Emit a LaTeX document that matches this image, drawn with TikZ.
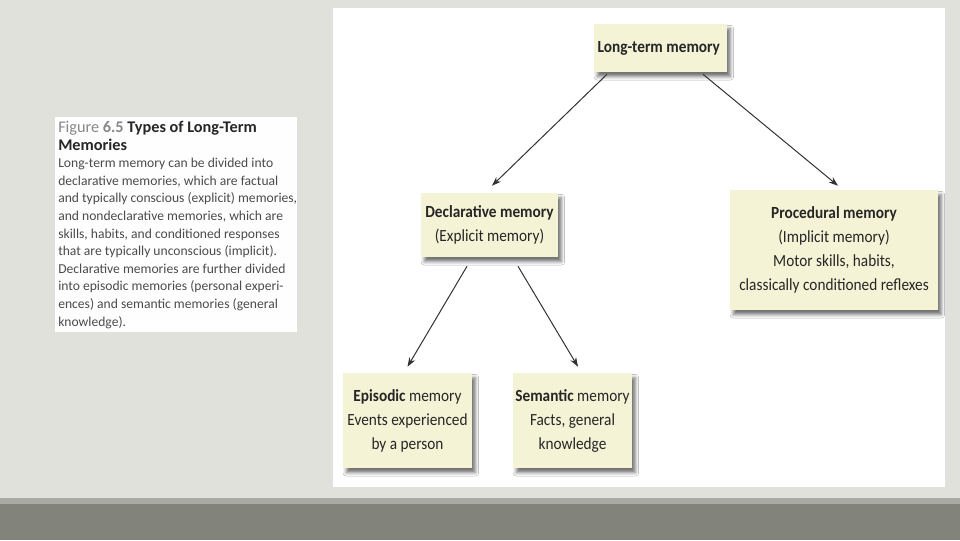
\documentclass[tikz,border=0pt]{standalone}
\usepackage{fontspec}
\usepackage{xcolor}
\usetikzlibrary{arrows.meta,shadows.blur}
\newfontfamily\boxfont[FakeStretch=0.9]{Carlito}
\newfontfamily\captionfont{Carlito}
\definecolor{pagegray}{RGB}{224,225,219}
\definecolor{bandlight}{RGB}{170,171,165}
\definecolor{banddark}{RGB}{130,131,122}
\definecolor{memfill}{RGB}{244,243,214}
\definecolor{captext}{RGB}{75,75,75}
\definecolor{capgray}{RGB}{135,135,135}

\begin{document}
\begin{tikzpicture}[
    x=0.75pt, y=-0.75pt,
    memory/.style={rectangle, fill=memfill, align=center, inner sep=0pt, text=black!85,
      font=\boxfont\fontsize{12.75}{18}\selectfont,
      blur shadow={shadow xshift=2.5pt, shadow yshift=-3.5pt, shadow blur radius=2.5pt, shadow opacity=55}},
    link/.style={-{Stealth[length=7pt,width=5pt]}, draw=black!80, line width=0.75pt}
    ]
    \useasboundingbox (0,0) rectangle (960,540);
    \fill[pagegray] (0,0) rectangle (960,540);
    \fill[white] (333,8) rectangle (945,487);
    \fill[bandlight] (0,498) rectangle (960,504);
    \fill[banddark] (0,504) rectangle (960,540);
    \fill[white!97!pagegray] (55,117) rectangle (297,332);
    \node[anchor=north west, inner sep=0pt, align=left, text=captext,
      font=\captionfont\fontsize{10.2}{13.2}\selectfont] (Caption) at (58,121) {
      {\fontsize{12.2}{13.2}\selectfont{\color{capgray}Figure \textbf{6.5}} \textbf{\color{black!85}Types of Long-Term}}\\
      {\fontsize{12.2}{13.2}\selectfont\textbf{\color{black!85}Memories}}\\
      Long-term memory can be divided into\\
      declarative memories, which are factual\\
      and typically conscious (explicit) memories,\\
      and nondeclarative memories, which are\\
      skills, habits, and conditioned responses\\
      that are typically unconscious (implicit).\\
      Declarative memories are further divided\\
      into episodic memories (personal experi-\\
      ences) and semantic memories (general\\
      knowledge).
    };
    \node[memory, minimum width=99.75pt, minimum height=36pt] (LongTerm) at (660.5,48) {
      \textbf{Long-term memory}
    };
    \node[memory, minimum width=102.75pt, minimum height=48pt] (Declarative) at (489.5,225) {
      \textbf{Declarative memory}\\
      (Explicit memory)
    };
    \node[memory, minimum width=156pt, minimum height=90pt] (Procedural) at (834,250) {
      \textbf{Procedural memory}\\
      (Implicit memory)\\
      Motor skills, habits,\\
      classically conditioned reflexes
    };
    \node[memory, minimum width=96.75pt, minimum height=71.25pt] (Episodic) at (407.5,420.5) {
      \textbf{Episodic} memory\\
      Events experienced\\
      by a person
    };
    \node[memory, minimum width=89.25pt, minimum height=71.25pt] (Semantic) at (572.5,420.5) {
      \textbf{Semantic} memory\\
      Facts, general\\
      knowledge
    };
    \draw[link] ([shift={(-53.5,2)}]LongTerm.south) -- ([shift={(2.5,-7)}]Declarative.north);
    \draw[link] ([shift={(42.5,2)}]LongTerm.south) -- ([shift={(4,-4)}]Procedural.north);
    \draw[link] ([shift={(-22.5,9)}]Declarative.south) -- ([shift={(0,-6)}]Episodic.north);
    \draw[link] ([shift={(28.5,9)}]Declarative.south) -- ([shift={(5.5,-6)}]Semantic.north);
  \end{tikzpicture}
\end{document}
